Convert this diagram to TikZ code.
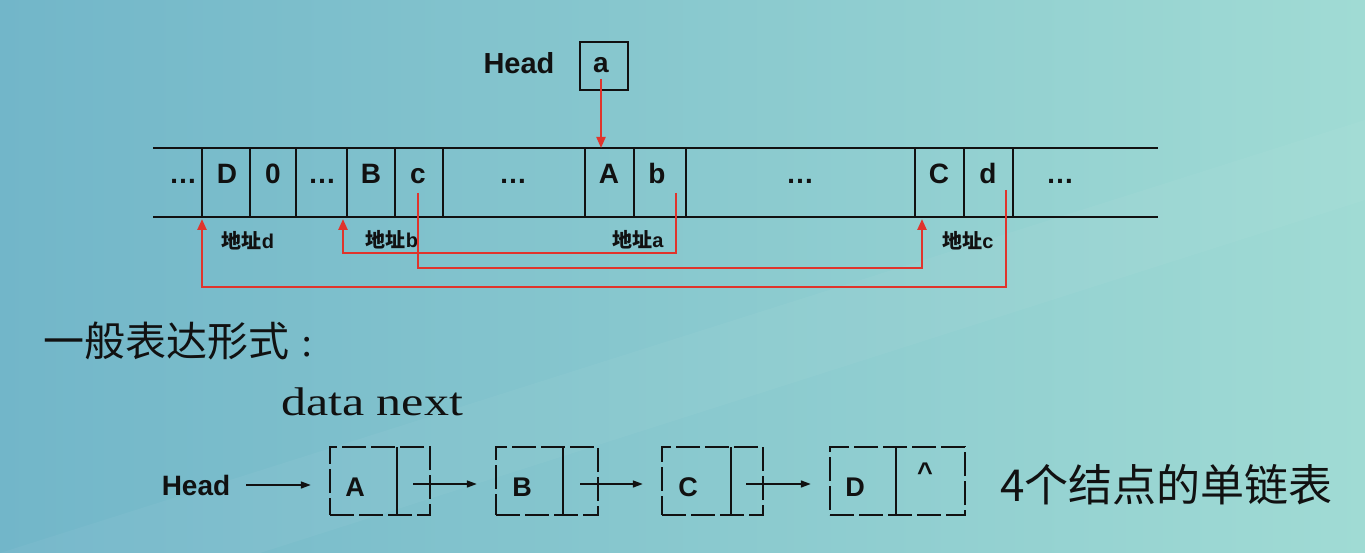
\documentclass[tikz,border=0pt]{standalone}
\usepackage{fontspec}
\setmainfont{Liberation Sans}
\newfontfamily\cjk{Noto Sans CJK SC}
\newfontfamily\serifx[FakeStretch=1.25]{Liberation Serif}
\usetikzlibrary{arrows.meta}
\definecolor{bgL}{HTML}{72B6C9}
\definecolor{bgM}{HTML}{90CED8}
\definecolor{bgR}{HTML}{A0DBD4}
\definecolor{redarrow}{HTML}{E0342C}
\definecolor{ink}{HTML}{111111}
\tikzset{
  memline/.style={draw=ink, line width=2pt},
  celltext/.style={font=\fontsize{28}{30}\selectfont\bfseries, text=ink, anchor=base, inner sep=0pt},
  addr/.style={font=\fontsize{20}{22}\selectfont\bfseries, text=ink, inner sep=0pt},
  redlink/.style={draw=redarrow, line width=2.4pt, -{Triangle[length=11pt,width=9pt]}},
  blklink/.style={draw=ink, line width=1.6pt, -{Triangle[length=10pt,width=7pt]}},
  listbox/.style={draw=ink, line width=2.4pt, dash pattern=on 24pt off 5pt, minimum height=68pt, inner sep=0pt},
  divline/.style={draw=ink, line width=2.2pt},
  nodetext/.style={font=\fontsize{27}{30}\selectfont\bfseries, text=ink, inner sep=0pt},
  bigcjk/.style={font=\cjk\fontsize{41}{44}\selectfont, text=ink, inner sep=0pt}
}
\begin{document}
\begin{tikzpicture}[x=1pt,y=-1pt]
\useasboundingbox (0,0) rectangle (1365,553);
% background
\shade[left color=bgL, middle color=bgM, right color=bgR] (0,0) rectangle (1365,553);
\fill[white, opacity=0.04] (0,553) -- (260,553) -- (1365,200) -- (1365,120) -- cycle;

% ---------- top: Head pointer ----------
\node[font=\fontsize{29}{30}\selectfont\bfseries, text=ink, inner sep=0pt] (headT) at (519,63) {Head};
\node[draw=ink, line width=2pt, minimum width=48pt, minimum height=48pt, inner sep=0pt] (ha) at (604,66) {};
\node[celltext] (ta) at (601,73) {a};
\coordinate (haP) at (601,79);

% ---------- memory strip ----------
\coordinate (sL1) at (153,148); \coordinate (sR1) at (1158,148);
\coordinate (sL2) at (153,217); \coordinate (sR2) at (1158,217);
\draw[memline] (sL1) -- (sR1);
\draw[memline] (sL2) -- (sR2);
\foreach \x in {202,250,296,347,395,443,585,634,686,915,964,1013}
  \draw[memline] (\x,148) -- (\x,217);

\node[celltext] (e1) at (183,184) {…};
\node[celltext] (tD) at (227,184) {D};
\node[celltext] (t0) at (273,184) {0};
\node[celltext] (e2) at (322,184) {…};
\node[celltext] (tB) at (371,184) {B};
\node[celltext] (tc) at (418,184) {c};
\node[celltext] (e3) at (513,184) {…};
\node[celltext] (tA) at (609,184) {A};
\node[celltext] (tb) at (657,184) {b};
\node[celltext] (e4) at (800,184) {…};
\node[celltext] (tC) at (939,184) {C};
\node[celltext] (td) at (988,184) {d};
\node[celltext] (e5) at (1060,184) {…};

% address labels
\node[addr] (adrD) at (248,241) {{\cjk 地址}d};
\node[addr] (adrB) at (392,240) {{\cjk 地址}b};
\node[addr] (adrA) at (638,240) {{\cjk 地址}a};
\node[addr] (adrC) at (968,241) {{\cjk 地址}c};

% red links
\coordinate (topA) at (601,148);
\draw[redlink, line width=2pt] (haP) -- (topA);
\coordinate (pb) at (676,193); \coordinate (qB) at (343,219);
\draw[redlink] (pb) -- (676,253) -- (343,253) -- (qB);
\coordinate (pc) at (418,193); \coordinate (qC) at (922,219);
\draw[redlink] (pc) -- (418,268) -- (922,268) -- (qC);
\coordinate (pd) at (1006,190); \coordinate (qD) at (202,219);
\draw[redlink] (pd) -- (1006,287) -- (202,287) -- (qD);

% ---------- bottom: general form ----------
\node[bigcjk, anchor=west] (title) at (43,341) {一般表达形式\rlap{\hspace*{12pt}\fontspec{Liberation Serif}:}};
\node[font=\serifx\fontsize{40}{42}\selectfont, text=ink, inner sep=0pt] (dn) at (372,402) {data next};

\node[font=\fontsize{28}{30}\selectfont\bfseries, text=ink, inner sep=0pt] (headB) at (196,485) {Head};

\node[listbox, minimum width=100pt] (nA) at (380,481) {};
\node[listbox, minimum width=102pt] (nB) at (547,481) {};
\node[listbox, minimum width=101pt] (nC) at (712.5,481) {};
\node[listbox, minimum width=135pt] (nD) at (897.5,481) {};
\draw[divline] (397,447) -- (397,515);
\draw[divline] (563,447) -- (563,515);
\draw[divline] (731,447) -- (731,515);
\draw[divline] (896,447) -- (896,515);

\node[nodetext] (lA) at (355,487) {A};
\node[nodetext] (lB) at (522,487) {B};
\node[nodetext] (lC) at (688,487) {C};
\node[nodetext] (lD) at (855,487) {D};
\node[nodetext] (lnil) at (925,472) {\^{}};

\coordinate (pA) at (413,484);
\coordinate (pB) at (580,484);
\coordinate (pC) at (746,484);
\draw[blklink, shorten <=16pt] (headB.east |- 0,485) -- ([xshift=-18pt]nA.west |- 0,485);
\draw[blklink] (pA) -- ([xshift=-18pt]nB.west |- pA);
\draw[blklink] (pB) -- ([xshift=-18pt]nC.west |- pB);
\draw[blklink] (pC) -- ([xshift=-18pt]nD.west |- pC);

\node[bigcjk, font=\cjk\fontsize{44}{46}\selectfont, anchor=west] (cap) at (1000,485) {4个结点的单链表};
\end{tikzpicture}
\end{document}
